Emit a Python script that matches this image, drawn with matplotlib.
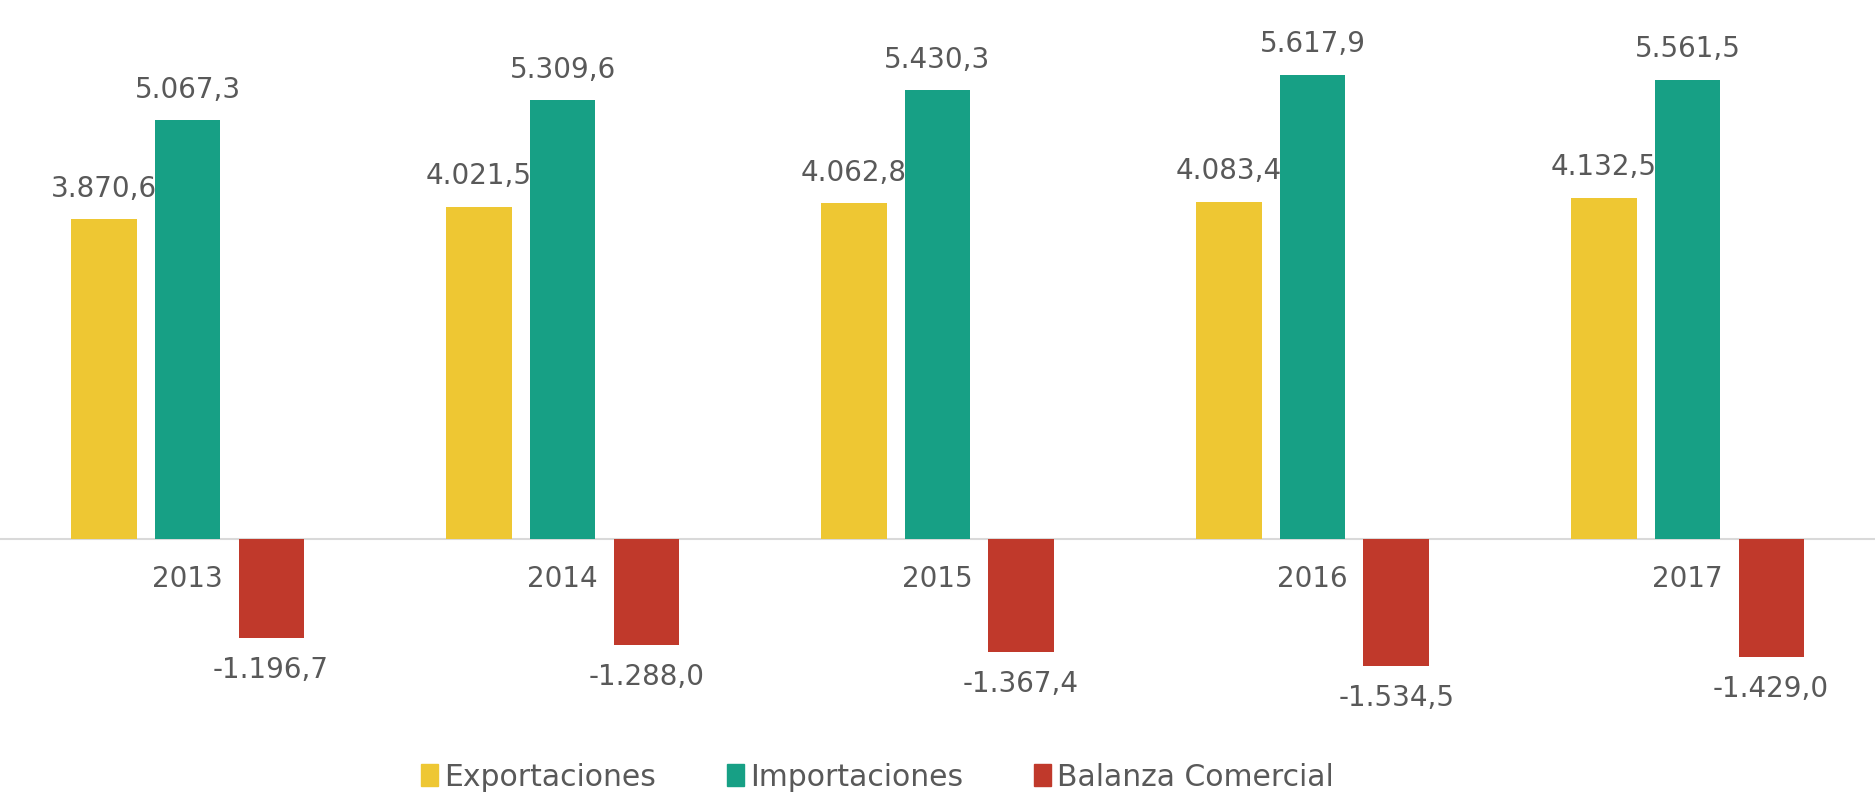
import numpy as np
import matplotlib
matplotlib.use("Agg")
import matplotlib.pyplot as plt
from matplotlib.patches import Patch

# ============================================
# DATA
# ============================================

years = ["2013", "2014", "2015", "2016", "2017"]
exportaciones = [3870.6, 4021.5, 4062.8, 4083.4, 4132.5]
importaciones = [5067.3, 5309.6, 5430.3, 5617.9, 5561.5]
balanza = [-1196.7, -1288.0, -1367.4, -1534.5, -1429.0]

series_names = ["Exportaciones", "Importaciones", "Balanza Comercial"]
colors = ["#EEC733", "#17A085", "#C0392B"]
TEXT_COLOR = "#595959"
FONT_SIZE = 20


def fmt_es(v):
    s = f"{v:,.1f}"
    return s.replace(",", "X").replace(".", ",").replace("X", ".")


# ============================================
# FIGURE
# ============================================

plt.rcParams["font.family"] = ["DejaVu Sans"]

fig = plt.figure(figsize=(18.75, 7.99), dpi=100)
ax = fig.add_axes([0, 1 - 700 / 799, 1, 700 / 799])

x = np.arange(len(years))
width = 0.174
step = 0.223

all_series = [exportaciones, importaciones, balanza]

for i, (vals, color) in enumerate(zip(all_series, colors)):
    pos = x + (i - 1) * step
    bars = ax.bar(pos, vals, width=width, color=color, zorder=2)
    for bar, v in zip(bars, vals):
        top = bar.get_height() if v >= 0 else v
        ax.annotate(
            fmt_es(v),
            xy=(bar.get_x() + bar.get_width() / 2, top),
            xytext=(0, 22 if v >= 0 else -23),
            textcoords="offset points",
            ha="center",
            va="center",
            fontsize=FONT_SIZE,
            color=TEXT_COLOR,
        )

ax.set_xlim(-0.5, len(years) - 0.5)
ax.set_ylim(-1950, 6525)

for side in ["top", "right", "left"]:
    ax.spines[side].set_visible(False)
ax.spines["bottom"].set_position(("data", 0))
ax.spines["bottom"].set_color("#D9D9D9")
ax.spines["bottom"].set_linewidth(1.5)
ax.spines["bottom"].set_zorder(1)

ax.set_yticks([])
ax.set_xticks(x)
ax.set_xticklabels(years, fontsize=FONT_SIZE, color=TEXT_COLOR)
ax.tick_params(axis="x", length=0, pad=19)

handles = [Patch(color=c, label=n) for c, n in zip(colors, series_names)]
fig.legend(
    handles=handles,
    loc="center",
    bbox_to_anchor=(0.468, 1 - 777 / 799),
    ncol=3,
    frameon=False,
    fontsize=21.5,
    labelcolor=TEXT_COLOR,
    handlelength=0.55,
    handleheight=0.75,
    handletextpad=0.2,
    columnspacing=2.4,
)

fig.savefig("out.png", dpi=100)
plt.close(fig)
